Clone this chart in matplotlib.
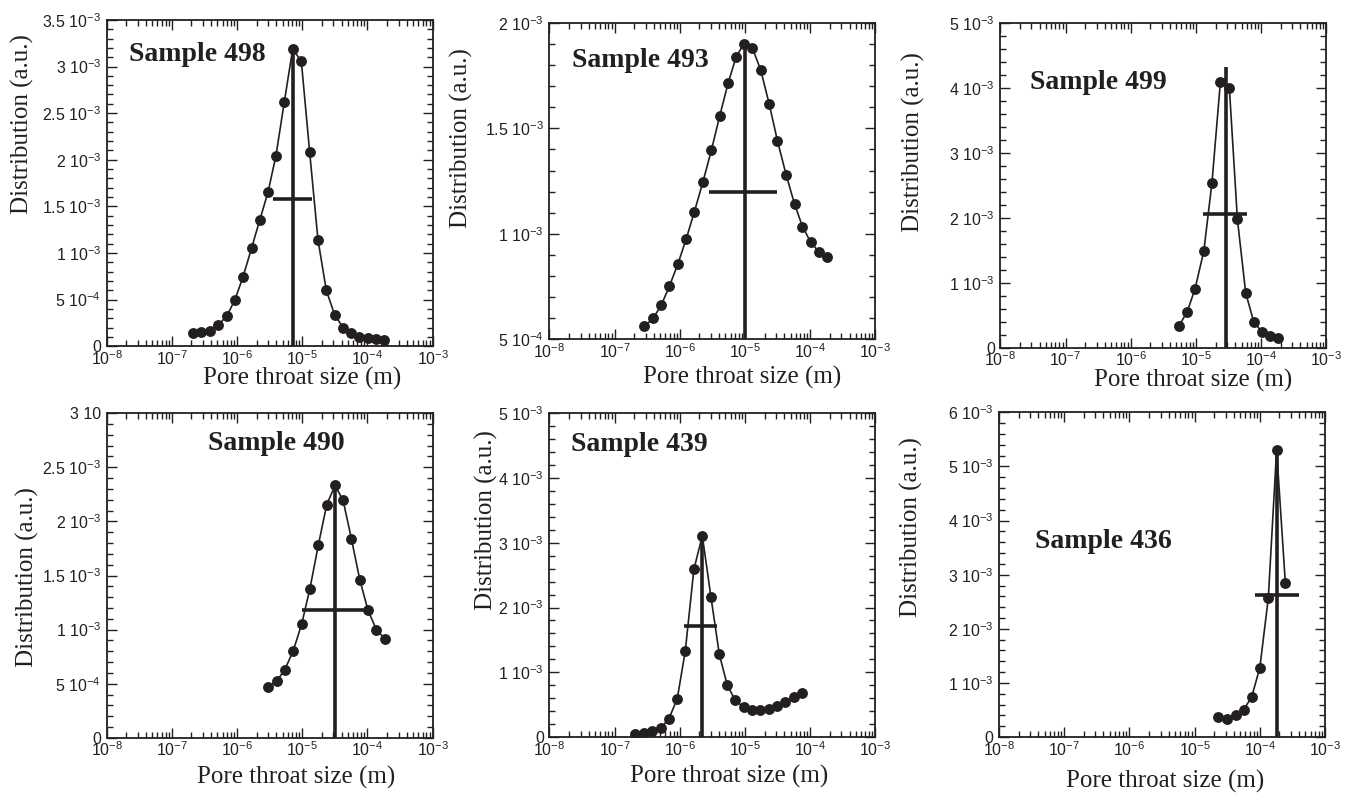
"""
Pore throat size distributions for six samples (log x axis)
"""
import matplotlib
matplotlib.use('Agg')
import matplotlib.pyplot as plt
from matplotlib.ticker import FixedLocator, MultipleLocator, LogLocator, NullFormatter

plt.rcParams['font.family'] = ['Liberation Sans', 'DejaVu Sans']
plt.rcParams['mathtext.default'] = 'regular'

INK = '#231f20'

##------------------------------------------
# values: pore throat size (m) and distribution (a.u.)
size_498 = [2.08e-7, 2.80e-7, 3.85e-7, 5.16e-7, 6.92e-7, 9.18e-7, 1.23e-6, 1.67e-6,
            2.22e-6, 2.98e-6, 3.95e-6, 5.31e-6, 7.13e-6, 9.68e-6, 1.30e-5, 1.74e-5,
            2.34e-5, 3.14e-5, 4.22e-5, 5.66e-5, 7.50e-5, 1.01e-4, 1.35e-4, 1.82e-4]
dist_498 = [1.43e-4, 1.50e-4, 1.68e-4, 2.29e-4, 3.22e-4, 4.91e-4, 7.41e-4, 1.053e-3,
            1.350e-3, 1.651e-3, 2.045e-3, 2.622e-3, 3.188e-3, 3.055e-3, 2.078e-3, 1.143e-3,
            5.98e-4, 3.37e-4, 2.01e-4, 1.40e-4, 9.7e-5, 8.6e-5, 7.5e-5, 6.8e-5]

size_493 = [2.86e-7, 3.89e-7, 5.22e-7, 6.92e-7, 9.29e-7, 1.25e-6, 1.67e-6, 2.25e-6,
            3.05e-6, 4.09e-6, 5.50e-6, 7.30e-6, 9.68e-6, 1.30e-5, 1.74e-5, 2.34e-5,
            3.14e-5, 4.27e-5, 5.73e-5, 7.59e-5, 1.02e-4, 1.35e-4, 1.82e-4]
dist_493 = [5.62e-4, 5.98e-4, 6.63e-4, 7.52e-4, 8.55e-4, 9.75e-4, 1.105e-3, 1.244e-3,
            1.398e-3, 1.560e-3, 1.715e-3, 1.840e-3, 1.903e-3, 1.880e-3, 1.777e-3, 1.617e-3,
            1.441e-3, 1.279e-3, 1.142e-3, 1.034e-3, 9.59e-4, 9.15e-4, 8.91e-4]

size_499 = [5.50e-6, 7.30e-6, 9.68e-6, 1.32e-5, 1.76e-5, 2.37e-5, 3.25e-5, 4.32e-5,
            5.79e-5, 7.67e-5, 1.02e-4, 1.37e-4, 1.84e-4]
dist_499 = [3.44e-4, 5.49e-4, 9.08e-4, 1.492e-3, 2.544e-3, 4.097e-3, 4.005e-3, 1.979e-3,
            8.46e-4, 4.05e-4, 2.46e-4, 1.79e-4, 1.49e-4]

size_490 = [2.96e-6, 4.03e-6, 5.41e-6, 7.28e-6, 9.77e-6, 1.31e-5, 1.76e-5, 2.37e-5,
            3.18e-5, 4.23e-5, 5.68e-5, 7.62e-5, 1.02e-4, 1.37e-4, 1.85e-4]
dist_490 = [4.68e-4, 5.23e-4, 6.31e-4, 8.06e-4, 1.049e-3, 1.378e-3, 1.778e-3, 2.154e-3,
            2.332e-3, 2.194e-3, 1.837e-3, 1.462e-3, 1.178e-3, 1.000e-3, 9.14e-4]

size_439 = [2.07e-7, 2.77e-7, 3.77e-7, 5.12e-7, 6.79e-7, 9.12e-7, 1.21e-6, 1.64e-6,
            2.21e-6, 3.00e-6, 4.03e-6, 5.35e-6, 7.10e-6, 9.51e-6, 1.28e-5, 1.71e-5,
            2.30e-5, 3.09e-5, 4.15e-5, 5.57e-5, 7.40e-5]
dist_439 = [5.1e-5, 6.7e-5, 9.3e-5, 1.44e-4, 2.83e-4, 5.92e-4, 1.327e-3, 2.587e-3,
            3.107e-3, 2.160e-3, 1.276e-3, 7.97e-4, 5.66e-4, 4.63e-4, 4.12e-4, 4.12e-4,
            4.37e-4, 4.84e-4, 5.40e-4, 6.17e-4, 6.79e-4]

size_436 = [2.30e-5, 3.16e-5, 4.25e-5, 5.64e-5, 7.48e-5, 1.00e-4, 1.35e-4, 1.81e-4, 2.46e-4]
dist_436 = [3.69e-4, 3.38e-4, 4.00e-4, 5.05e-4, 7.38e-4, 1.280e-3, 2.572e-3, 5.305e-3, 2.855e-3]

# mode (vertical line) and width marker (horizontal bar)
mode_x = [7.30e-6, 9.9e-6, 2.86e-5, 3.18e-5, 2.21e-6, 1.85e-4]
mode_top = [3.21e-3, 1.91e-3, 4.33e-3, 2.32e-3, 3.08e-3, 5.30e-3]
bar_y = [1.576e-3, 1.20e-3, 2.067e-3, 1.178e-3, 1.708e-3, 2.634e-3]
bar_x0 = [3.60e-6, 2.75e-6, 1.28e-5, 9.89e-6, 1.14e-6, 8.41e-5]
bar_x1 = [1.39e-5, 3.07e-5, 6.07e-5, 9.1e-5, 3.71e-6, 3.99e-4]

names = ['Sample 498', 'Sample 493', 'Sample 499', 'Sample 490', 'Sample 439', 'Sample 436']
sizes = [size_498, size_493, size_499, size_490, size_439, size_436]
dists = [dist_498, dist_493, dist_499, dist_490, dist_439, dist_436]

ylims = [(0, 3.5e-3), (5e-4, 2e-3), (0, 5e-3), (0, 3e-3), (0, 5e-3), (0, 6e-3)]
ymajor = [5e-4, 5e-4, 1e-3, 5e-4, 1e-3, 1e-3]
yticklabels = [
    ['0', '5 $10^{-4}$', '1 $10^{-3}$', '1.5 $10^{-3}$', '2 $10^{-3}$', '2.5 $10^{-3}$', '3 $10^{-3}$', '3.5 $10^{-3}$'],
    ['5 $10^{-4}$', '1 $10^{-3}$', '1.5 $10^{-3}$', '2 $10^{-3}$'],
    ['0', '1 $10^{-3}$', '2 $10^{-3}$', '3 $10^{-3}$', '4 $10^{-3}$', '5 $10^{-3}$'],
    ['0', '5 $10^{-4}$', '1 $10^{-3}$', '1.5 $10^{-3}$', '2 $10^{-3}$', '2.5 $10^{-3}$', '3 10'],
    ['0', '1 $10^{-3}$', '2 $10^{-3}$', '3 $10^{-3}$', '4 $10^{-3}$', '5 $10^{-3}$'],
    ['0', '1 $10^{-3}$', '2 $10^{-3}$', '3 $10^{-3}$', '4 $10^{-3}$', '5 $10^{-3}$', '6 $10^{-3}$'],
]
xticks = [1e-8, 1e-7, 1e-6, 1e-5, 1e-4, 1e-3]
xticklabels = ['$10^{-8}$', '$10^{-7}$', '$10^{-6}$', '$10^{-5}$', '$10^{-4}$', '$10^{-3}$']

#------------------------------------------------------------
# layout (figure fractions) and text placements (axes fractions)
lefts = [0.079, 0.407, 0.741, 0.079, 0.407, 0.740]
bottoms = [0.565, 0.574, 0.563, 0.073, 0.074, 0.074]
heights = [0.410, 0.397, 0.408, 0.408, 0.407, 0.408]
width = 0.2415
name_pos = [(0.07, 0.893), (0.07, 0.883), (0.092, 0.818), (0.31, 0.908), (0.067, 0.904), (0.11, 0.603)]
ylab_pos = [(-0.258, 0.68), (-0.27, 0.636), (-0.267, 0.634), (-0.243, 0.495), (-0.193, 0.67), (-0.267, 0.646)]
xlab_pos = [(0.60, -0.10), (0.59, -0.12), (0.59, -0.10), (0.58, -0.123), (0.55, -0.123), (0.51, -0.138)]

fig = plt.figure(figsize=(13.5, 7.96), dpi=100)

for i in range(6):
    ax = fig.add_axes([lefts[i], bottoms[i], width, heights[i]])
    ax.set_xscale('log')
    ax.set_xlim(1e-8, 1e-3)
    ax.set_ylim(*ylims[i])

    ax.plot(sizes[i], dists[i], '-', color=INK, lw=1.2, zorder=2)
    ax.plot(sizes[i], dists[i], 'o', color=INK, ms=6.8, zorder=3)
    ax.vlines(mode_x[i], ylims[i][0], mode_top[i], color=INK, lw=2.6, zorder=4)
    ax.hlines(bar_y[i], bar_x0[i], bar_x1[i], color=INK, lw=2.6, zorder=4)

    ax.xaxis.set_major_locator(FixedLocator(xticks))
    ax.set_xticklabels(xticklabels)
    ax.xaxis.set_minor_locator(LogLocator(base=10, subs=range(2, 10), numticks=20))
    ax.xaxis.set_minor_formatter(NullFormatter())
    lo, hi = ylims[i]
    yt = [lo + k * ymajor[i] for k in range(len(yticklabels[i]))]
    ax.yaxis.set_major_locator(FixedLocator(yt))
    ax.set_yticklabels(yticklabels[i])
    ax.yaxis.set_minor_locator(MultipleLocator(ymajor[i] / 5))

    ax.tick_params(which='both', direction='in', top=True, right=True, colors=INK,
                   labelsize=11.5, width=1.0)
    ax.tick_params(which='major', length=7)
    ax.tick_params(which='minor', length=4)
    ax.tick_params(axis='y', pad=4)
    ax.tick_params(axis='x', pad=2)
    for s in ax.spines.values():
        s.set_color(INK)
        s.set_linewidth(1.3)

    ax.text(name_pos[i][0], name_pos[i][1], names[i], transform=ax.transAxes,
            ha='left', va='center', fontsize=20, fontweight='bold',
            family='Liberation Serif', color=INK)
    ax.set_ylabel('Distribution (a.u.)', family='Liberation Serif', fontsize=18,
                  color=INK, va='center')
    ax.yaxis.set_label_coords(*ylab_pos[i])
    ax.set_xlabel('Pore throat size (m)', family='Liberation Serif', fontsize=18,
                  color=INK, va='center')
    ax.xaxis.set_label_coords(*xlab_pos[i])

fig.savefig('out.png', dpi=100)
